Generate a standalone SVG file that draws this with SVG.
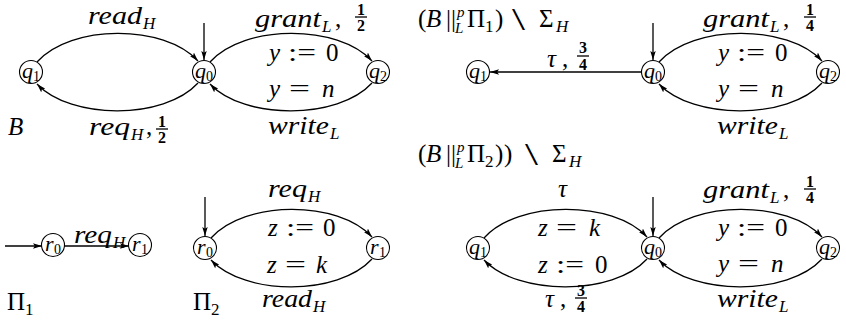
<svg xmlns="http://www.w3.org/2000/svg" width="846" height="326" viewBox="0 0 846 326">
<style>
text{font-family:"Liberation Serif","DejaVu Serif",serif;fill:#000}
.i,.s,.nq{font-style:italic}
.i{font-size:25px}
.r{font-size:25px}
.sm{font-size:31px}
.s{font-size:17px}
.sd{font-size:17px}
.nq{font-size:22px}
.nd{font-size:14px}
.f{font-weight:bold;font-size:16px;text-anchor:middle}
.e{stroke:#000;stroke-width:1.3;fill:none}
.a{marker-end:url(#ah)}
.n{stroke:#000;stroke-width:1.1;fill:#fff}
.bar{stroke:#000;stroke-width:1.3}
</style>
<defs>
<marker id="ah" viewBox="0 0 10 6" refX="10" refY="3" markerWidth="9" markerHeight="6" markerUnits="userSpaceOnUse" orient="auto">
<path d="M0,0 L10,3 L0,6 L2,3 z" fill="#000"/>
</marker>
</defs>

<g id="connectors">
<path class="e a" d="M204,23 L204,60"/>
<path class="e a" d="M37,62 C71,24 164,24 198,61"/>
<path class="e a" d="M198,83 C164,120 71,120 37,84"/>
<path class="e a" d="M210,62 C244,24 338,24 372,61"/>
<path class="e a" d="M372,83 C338,120 244,120 210,84"/>
<path class="e a" d="M653,23 L653,60"/>
<path class="e a" d="M641,72 L490,72"/>
<path class="e a" d="M659,62 C693,24 788,24 822,61"/>
<path class="e a" d="M822,83 C788,120 693,120 659,84"/>
<path class="e a" d="M5,246 L42,246"/>
<path class="e a" d="M64,246 L129,246"/>
<path class="e a" d="M205,197 L205,236"/>
<path class="e a" d="M211,238 C245,200 338,200 372,237"/>
<path class="e a" d="M372,259 C338,296 245,296 211,260"/>
<path class="e a" d="M653,197 L653,236"/>
<path class="e a" d="M484,238 C518,200 613,200 647,237"/>
<path class="e a" d="M647,259 C613,296 518,296 484,260"/>
<path class="e a" d="M659,238 C693,200 788,200 822,237"/>
<path class="e a" d="M822,259 C788,296 693,296 659,260"/>
</g>

<g id="B_q1"><circle class="n" cx="31" cy="72" r="11.5"/><text class="nq" x="22" y="78">q</text><text class="nd" x="33" y="81">1</text></g>
<g id="B_q0"><circle class="n" cx="204" cy="72" r="11.5"/><text class="nq" x="195" y="78">q</text><text class="nd" x="206" y="81">0</text></g>
<g id="B_q2"><circle class="n" cx="378" cy="72" r="11.5"/><text class="nq" x="369" y="78">q</text><text class="nd" x="380" y="81">2</text></g>

<g id="P1_q1"><circle class="n" cx="478" cy="72" r="11.5"/><text class="nq" x="469" y="78">q</text><text class="nd" x="480" y="81">1</text></g>
<g id="P1_q0"><circle class="n" cx="653" cy="72" r="11.5"/><text class="nq" x="644" y="78">q</text><text class="nd" x="655" y="81">0</text></g>
<g id="P1_q2"><circle class="n" cx="828" cy="72" r="11.5"/><text class="nq" x="819" y="78">q</text><text class="nd" x="830" y="81">2</text></g>

<g id="Pi1_r0"><circle class="n" cx="53" cy="245" r="11.5"/><text class="nq" x="45" y="251">r</text><text class="nd" x="54" y="254">0</text></g>
<g id="Pi1_r1"><circle class="n" cx="140" cy="245" r="11.5"/><text class="nq" x="132" y="251">r</text><text class="nd" x="141" y="254">1</text></g>

<g id="Pi2_r0"><circle class="n" cx="205" cy="248" r="11.5"/><text class="nq" x="197" y="254">r</text><text class="nd" x="206" y="257">0</text></g>
<g id="Pi2_r1"><circle class="n" cx="378" cy="248" r="11.5"/><text class="nq" x="370" y="254">r</text><text class="nd" x="379" y="257">1</text></g>

<g id="P2_q1"><circle class="n" cx="478" cy="248" r="11.5"/><text class="nq" x="469" y="254">q</text><text class="nd" x="480" y="257">1</text></g>
<g id="P2_q0"><circle class="n" cx="653" cy="248" r="11.5"/><text class="nq" x="644" y="254">q</text><text class="nd" x="655" y="257">0</text></g>
<g id="P2_q2"><circle class="n" cx="828" cy="248" r="11.5"/><text class="nq" x="819" y="254">q</text><text class="nd" x="830" y="257">2</text></g>

<g id="labels">
<text class="i" x="88" y="24" textLength="54" lengthAdjust="spacingAndGlyphs">read</text><text class="s" x="143" y="29">H</text>
<text class="i" x="8" y="135">B</text>
<text class="i" x="89" y="135" textLength="41" lengthAdjust="spacingAndGlyphs">req</text><text class="s" x="131" y="140">H</text><text class="r" x="146" y="135">,</text>
<text class="f" x="162" y="127">1</text><line class="bar" x1="156" y1="129" x2="168" y2="129"/><text class="f" x="162" y="143">2</text>

<text class="i" x="255" y="27" textLength="66" lengthAdjust="spacingAndGlyphs">grant</text><text class="s" x="322" y="32">L</text><text class="r" x="335" y="27">,</text>
<text class="f" x="361" y="15">1</text><line class="bar" x1="355" y1="17" x2="367" y2="17"/><text class="f" x="361" y="31">2</text>
<text class="i" x="269" y="61">y</text><text class="r" x="288" y="61" textLength="28" lengthAdjust="spacingAndGlyphs">:=</text><text class="r" x="326" y="61">0</text>
<text class="i" x="269" y="97">y</text><text class="r" x="289" y="97" textLength="21" lengthAdjust="spacingAndGlyphs">=</text><text class="i" x="322" y="97">n</text>
<text class="i" x="268" y="134" textLength="61" lengthAdjust="spacingAndGlyphs">write</text><text class="s" x="330" y="139">L</text>

<text class="r" x="418" y="27">(</text><text class="i" x="426" y="27">B</text><text class="r" x="446" y="27">||</text>
<text class="s" x="457" y="17" style="font-size:15px">p</text><text class="s" x="455" y="33" style="font-size:15px">L</text>
<text class="r" x="467" y="27">Π</text><text class="sd" x="485" y="32">1</text><text class="r" x="495" y="27">)</text>
<text class="sm" x="512" y="30" textLength="13" lengthAdjust="spacingAndGlyphs">\</text><text class="r" x="539" y="27">Σ</text><text class="s" x="556" y="32">H</text>

<text class="i" x="547" y="67">τ</text><text class="r" x="562" y="67">,</text>
<text class="f" x="583" y="53">3</text><line class="bar" x1="577" y1="56" x2="589" y2="56"/><text class="f" x="583" y="70">4</text>

<text class="i" x="703" y="27" textLength="66" lengthAdjust="spacingAndGlyphs">grant</text><text class="s" x="770" y="32">L</text><text class="r" x="783" y="27">,</text>
<text class="f" x="810" y="15">1</text><line class="bar" x1="804" y1="17" x2="816" y2="17"/><text class="f" x="810" y="31">4</text>
<text class="i" x="718" y="61">y</text><text class="r" x="737" y="61" textLength="28" lengthAdjust="spacingAndGlyphs">:=</text><text class="r" x="775" y="61">0</text>
<text class="i" x="718" y="97">y</text><text class="r" x="738" y="97" textLength="21" lengthAdjust="spacingAndGlyphs">=</text><text class="i" x="771" y="97">n</text>
<text class="i" x="717" y="134" textLength="61" lengthAdjust="spacingAndGlyphs">write</text><text class="s" x="779" y="139">L</text>

<text class="i" x="74" y="243" textLength="38" lengthAdjust="spacingAndGlyphs">req</text><text class="s" x="113" y="248">H</text>
<text class="r" x="7" y="310">Π</text><text class="sd" x="25" y="315">1</text>

<text class="i" x="268" y="197" textLength="39" lengthAdjust="spacingAndGlyphs">req</text><text class="s" x="308" y="202">H</text>
<text class="i" x="268" y="236">z</text><text class="r" x="286" y="236" textLength="28" lengthAdjust="spacingAndGlyphs">:=</text><text class="r" x="323" y="236">0</text>
<text class="i" x="267" y="273">z</text><text class="r" x="285" y="273" textLength="21" lengthAdjust="spacingAndGlyphs">=</text><text class="i" x="316" y="273">k</text>
<text class="i" x="262" y="307" textLength="50" lengthAdjust="spacingAndGlyphs">read</text><text class="s" x="313" y="312">H</text>
<text class="r" x="193" y="310">Π</text><text class="sd" x="211" y="315">2</text>

<text class="r" x="418" y="162">(</text><text class="i" x="426" y="162">B</text><text class="r" x="446" y="162">||</text>
<text class="s" x="457" y="152" style="font-size:15px">p</text><text class="s" x="455" y="168" style="font-size:15px">L</text>
<text class="r" x="467" y="162">Π</text><text class="sd" x="485" y="167">2</text><text class="r" x="495" y="162">)</text><text class="r" x="504" y="162">)</text>
<text class="sm" x="525" y="165" textLength="13" lengthAdjust="spacingAndGlyphs">\</text><text class="r" x="552" y="162">Σ</text><text class="s" x="569" y="167">H</text>

<text class="i" x="558" y="197">τ</text>
<text class="i" x="538" y="236">z</text><text class="r" x="556" y="236" textLength="21" lengthAdjust="spacingAndGlyphs">=</text><text class="i" x="589" y="236">k</text>
<text class="i" x="538" y="273">z</text><text class="r" x="556" y="273" textLength="28" lengthAdjust="spacingAndGlyphs">:=</text><text class="r" x="595" y="273">0</text>
<text class="i" x="545" y="307">τ</text><text class="r" x="560" y="307">,</text>
<text class="f" x="581" y="296">3</text><line class="bar" x1="575" y1="298" x2="587" y2="298"/><text class="f" x="581" y="312">4</text>

<text class="i" x="703" y="198" textLength="66" lengthAdjust="spacingAndGlyphs">grant</text><text class="s" x="770" y="203">L</text><text class="r" x="783" y="198">,</text>
<text class="f" x="810" y="187">1</text><line class="bar" x1="804" y1="189" x2="816" y2="189"/><text class="f" x="810" y="203">4</text>
<text class="i" x="718" y="236">y</text><text class="r" x="737" y="236" textLength="28" lengthAdjust="spacingAndGlyphs">:=</text><text class="r" x="775" y="236">0</text>
<text class="i" x="718" y="272">y</text><text class="r" x="738" y="272" textLength="21" lengthAdjust="spacingAndGlyphs">=</text><text class="i" x="771" y="272">n</text>
<text class="i" x="717" y="307" textLength="61" lengthAdjust="spacingAndGlyphs">write</text><text class="s" x="779" y="312">L</text>
</g>
</svg>
